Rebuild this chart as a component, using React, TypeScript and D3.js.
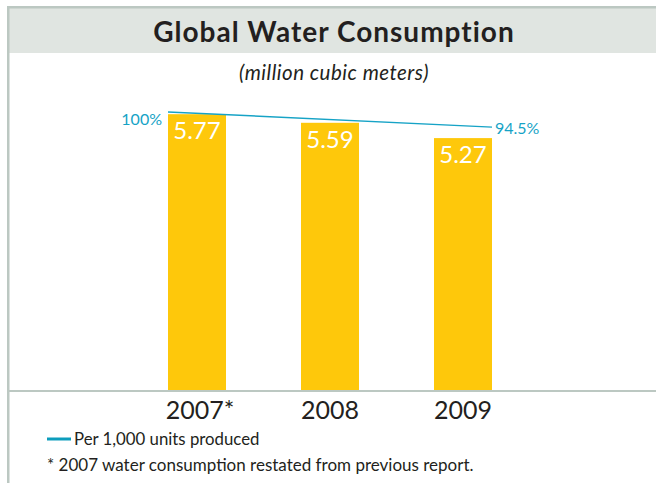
import React from "react";
import * as d3 from "d3";

const years = ["2007*", "2008", "2009"];
const consumption = [5.77, 5.59, 5.27];
const consumptionLabels = ["5.77", "5.59", "5.27"];
const perUnitPct = [100, 94.5];
const perUnitLabels = ["100%", "94.5%"];
const title = "Global Water Consumption";
const subtitle = "(million cubic meters)";
const legendLabel = "Per 1,000 units produced";
const footnote = "* 2007 water consumption restated from previous report.";

const W = 656;
const H = 483;
const FONT = "Lato, 'Open Sans', sans-serif";
const BAR = "#fec80b";
const TEAL = "#16a3c6";
const BORDER = "#bcc8c2";
const BAND = "#e0e5e1";
const BASE_Y = 390;

export default function App() {
  const x = d3
    .scaleBand<string>()
    .domain(years)
    .range([101.5, 558.5])
    .paddingInner(0.564)
    .paddingOuter(0.5);
  const y = d3.scaleLinear().domain([0, 6]).range([BASE_Y, BASE_Y - 6 * 47.8]);
  const yPct = d3.scaleLinear().domain([0, 100]).range([387, 112]);

  const bw = x.bandwidth();
  const lineX = [x(years[0])!, x(years[years.length - 1])! + bw];
  const linePts: [number, number][] = perUnitPct.map((p, i) => [lineX[i], yPct(p)]);
  const line = d3.line();

  return (
    <svg
      width={W}
      height={H}
      style={{ position: "absolute", left: 0, top: 0, background: "#fff" }}
      fontFamily={FONT}
    >
      {/* frame */}
      <rect x={9} y={8} width={W - 9} height={45} fill={BAND} />
      <rect x={7} y={6} width={W - 7} height={2.5} fill={BORDER} />
      <rect x={7} y={6} width={2.5} height={H - 6} fill={BORDER} />
      <text
        x={334}
        y={42}
        textAnchor="middle"
        fontSize={28}
        fontWeight={700}
        letterSpacing={1}
        fill="#231f20"
      >
        {title}
      </text>
      <text
        x={334}
        y={80}
        textAnchor="middle"
        fontSize={20.5}
        fontStyle="italic"
        letterSpacing={0.5}
        fill="#231f20"
      >
        {subtitle}
      </text>

      {/* bars */}
      {years.map((yr, i) => (
        <g key={yr}>
          <rect
            x={x(yr)}
            y={y(consumption[i])}
            width={bw}
            height={BASE_Y - y(consumption[i])}
            fill={BAR}
          />
          <text
            x={x(yr)! + bw / 2}
            y={y(consumption[i]) + 25}
            textAnchor="middle"
            fontSize={24}
            fill="#fff"
          >
            {consumptionLabels[i]}
          </text>
          <text
            x={x(yr)! + bw / 2 + (yr.endsWith("*") ? 3 : 0)}
            y={419}
            textAnchor="middle"
            fontSize={25}
            fill="#231f20"
          >
            {yr}
          </text>
        </g>
      ))}

      {/* baseline */}
      <line x1={9} x2={W} y1={BASE_Y + 1} y2={BASE_Y + 1} stroke={BORDER} strokeWidth={2} />

      {/* per unit line */}
      <path d={line(linePts)!} fill="none" stroke={TEAL} strokeWidth={1.5} />
      <text x={lineX[0] - 6} y={yPct(perUnitPct[0]) + 13} textAnchor="end" fontSize={16} fill={TEAL}>
        {perUnitLabels[0]}
      </text>
      <text x={lineX[1] + 3} y={yPct(perUnitPct[1]) + 7} textAnchor="start" fontSize={16} fill={TEAL}>
        {perUnitLabels[1]}
      </text>

      {/* legend */}
      <line x1={47} x2={71} y1={439} y2={439} stroke="#0c9dbc" strokeWidth={3} />
      <text x={74} y={445} fontSize={16.8} fill="#231f20">
        {legendLabel}
      </text>
      <text x={47} y={471} fontSize={17} fill="#231f20">
        {footnote}
      </text>
    </svg>
  );
}
